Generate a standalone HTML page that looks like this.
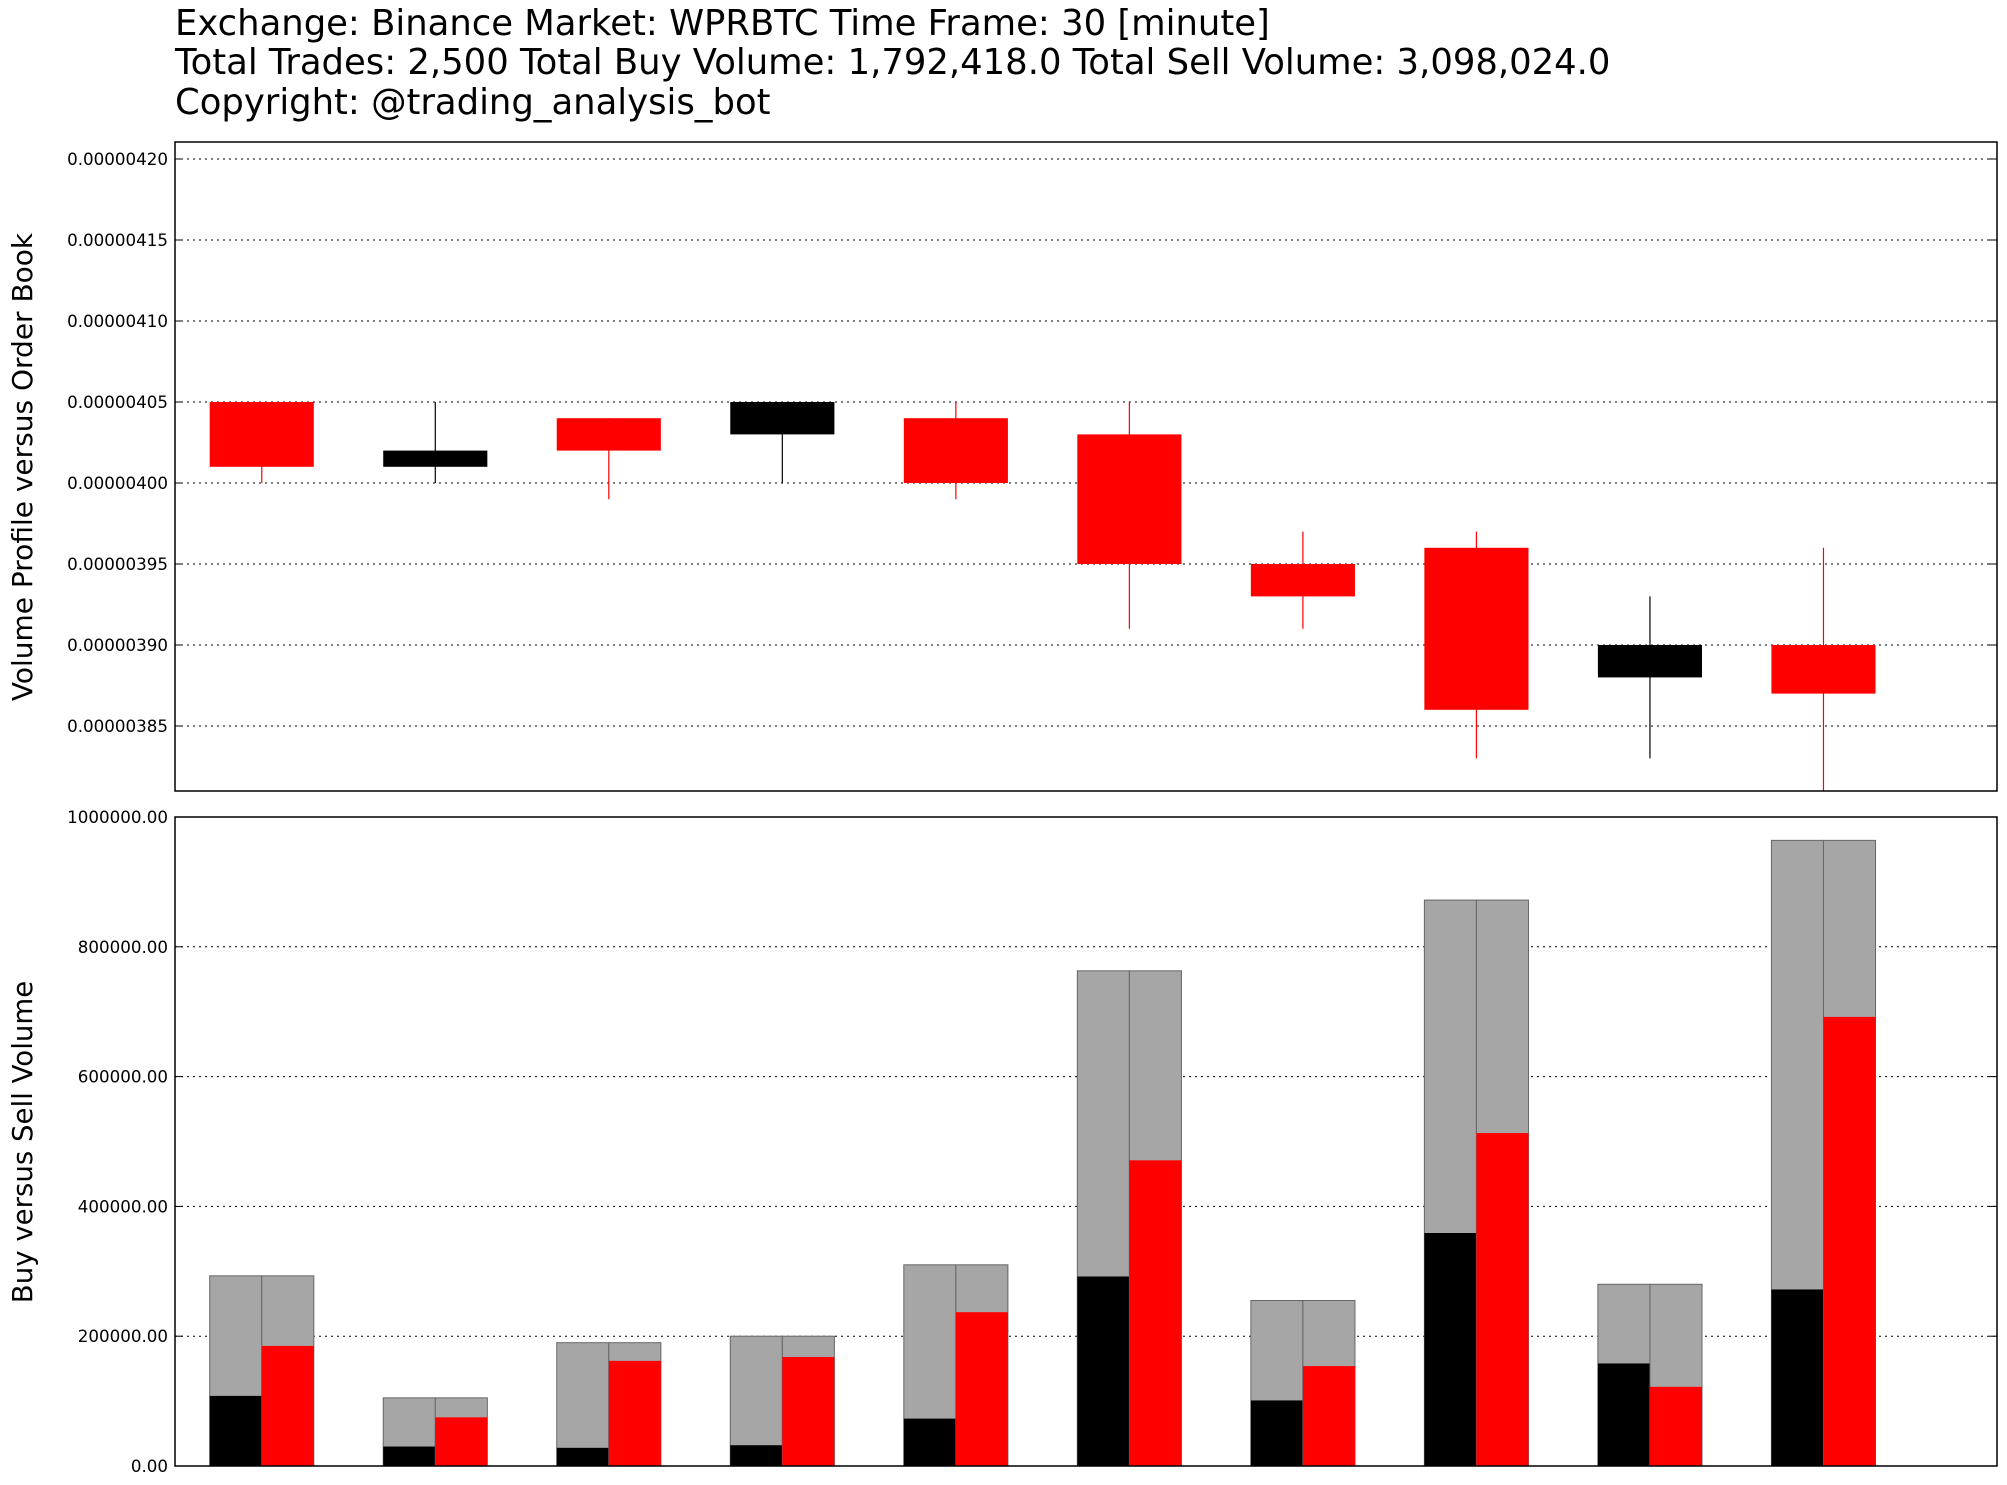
<!DOCTYPE html>
<html><head><meta charset="utf-8"><style>
body{margin:0;background:#fff;width:2007px;height:1485px;overflow:hidden;font-family:"DejaVu Sans","Liberation Sans",sans-serif}
.t{position:absolute;left:175px;font-size:35.4px;color:#000;white-space:nowrap;line-height:1}
</style></head><body>
<div class="t" style="top:6px">Exchange: Binance Market: WPRBTC Time Frame: 30 [minute]</div>
<div class="t" style="top:45px">Total Trades: 2,500 Total Buy Volume: 1,792,418.0 Total Sell Volume: 3,098,024.0</div>
<div class="t" style="top:85px">Copyright: @trading_analysis_bot</div>
<svg id="c" width="2007" height="1485" style="position:absolute;left:0;top:0"></svg>
<script>
const opens=[405,401,404,403,404,403,395,396,388,390];
const closes=[401,402,402,405,400,395,393,386,390,387];
const highs=[405,405,404,405,405,405,397,397,393,396];
const lows=[400,400,399,400,399,391,391,383,383,381];
const priceTicks=[385,390,395,400,405,410,415,420];
const buyVol=[108000,30000,28000,32000,73000,292000,101000,359000,158000,272000];
const sellVol=[185000,75000,162000,168000,237000,471000,154000,513000,122000,692000];
const volTicks=[0,200000,400000,600000,800000,1000000];

const svg=document.getElementById('c');const NS='http://www.w3.org/2000/svg';
function el(t,a,p){const e=document.createElementNS(NS,t);for(const k in a)e.setAttribute(k,a[k]);(p||svg).appendChild(e);return e;}
const L=175,R=1997;
const x=i=>L+(i+0.5)/10.5*(R-L);
const step=(R-L)/10.5;
const T1=142,B1=791,T2=817,B2=1466;
const py=v=>726+(385-v)/5*81;
const vy=v=>B2-v/1000000*(B2-T2);
const FF='DejaVu Sans, Liberation Sans, sans-serif';

priceTicks.forEach(v=>{const y=py(v);
 const g=el('line',{x1:L,x2:R,y1:y,y2:y,stroke:'#000','stroke-width':1,'stroke-dasharray':'2,4'});
 
 const t=el('text',{x:168,y:y+6,'text-anchor':'end','font-size':16.7,'font-family':FF});
 t.textContent='0.00000'+v;
 
});
volTicks.forEach(v=>{const y=vy(v);
 if(v>0&&v<1000000){const g=el('line',{x1:L,x2:R,y1:y,y2:y,stroke:'#000','stroke-width':1,'stroke-dasharray':'2,4'});
 }
 const t=el('text',{x:168,y:y+6,'text-anchor':'end','font-size':16.7,'font-family':FF});
 t.textContent=v.toFixed(2);
 
});

const bw=step*0.6;
opens.forEach((o,i)=>{const c=closes[i];const col=c<o?'#f00':'#000';const cx=x(i);
 const w=el('line',{x1:cx,x2:cx,y1:py(highs[i]),y2:Math.min(py(lows[i]),B1),stroke:col,'stroke-width':1.2});
 
 const b=el('rect',{x:cx-bw/2,y:py(Math.max(o,c)),width:bw,height:Math.abs(o-c)/5*81,fill:col});
 
});

buyVol.forEach((bv,i)=>{const sv=sellVol[i];const tot=bv+sv;const cx=x(i);const hw=bw/2;
 [[cx-hw,bv,'#000','buy'],[cx,sv,'#f00','sell']].forEach(([bx,val,col,n])=>{
  const g=el('rect',{x:bx,y:vy(tot),width:hw,height:B2-vy(tot),fill:'#a6a6a6',stroke:'#666','stroke-width':1});
  
  const r=el('rect',{x:bx,y:vy(val),width:hw,height:B2-vy(val),fill:col});
  
 });
});

[[T1,B1,'price-panel-frame'],[T2,B2,'volume-panel-frame']].forEach(([t,b,n])=>{
 const f=el('rect',{x:L,y:t,width:R-L,height:b-t,fill:'none',stroke:'#000','stroke-width':1.5});
 
});
priceTicks.forEach(v=>{const y=py(v);el('line',{x1:L,x2:L+8,y1:y,y2:y,stroke:'#000'});el('line',{x1:R-8,x2:R,y1:y,y2:y,stroke:'#000'});});
volTicks.forEach(v=>{const y=vy(v);el('line',{x1:L,x2:L+8,y1:y,y2:y,stroke:'#000'});el('line',{x1:R-8,x2:R,y1:y,y2:y,stroke:'#000'});});

const a1=el('text',{x:0,y:0,transform:'translate(32,467) rotate(-90)','text-anchor':'middle','font-size':28,'font-family':FF});
a1.textContent='Volume Profile versus Order Book';

const a2=el('text',{x:0,y:0,transform:'translate(32,1142) rotate(-90)','text-anchor':'middle','font-size':27.6,'font-family':FF});
a2.textContent='Buy versus Sell Volume';

</script>
</body></html>
